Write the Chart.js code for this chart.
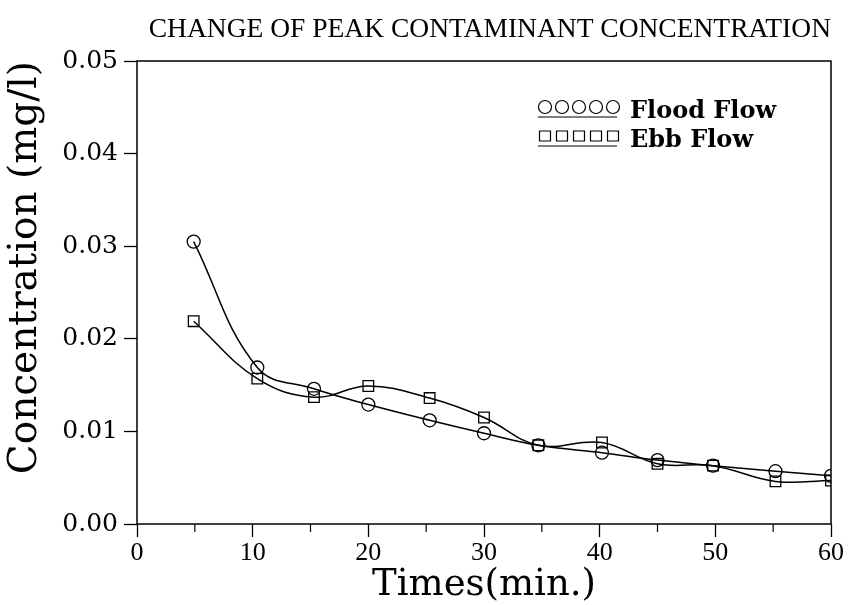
<!DOCTYPE html>
<html>
<head>
<meta charset="utf-8">
<script src="https://cdn.jsdelivr.net/npm/chart.js@4.4.1/dist/chart.umd.min.js"></script>
<style>
  html, body { margin: 0; padding: 0; background: #fff; }
  #wrap { width: 848px; height: 605px; position: relative; }
</style>
</head>
<body>
<div id="wrap"><canvas id="peakChart" width="848" height="605"></canvas></div>
<script>
// --- données ---
const times = [4.9, 10.4, 15.3, 20.0, 25.3, 30.0, 34.7, 40.2, 45.0, 49.8, 55.2, 60.0];
const floodFlow = [0.0305, 0.0169, 0.0146, 0.0129, 0.0112, 0.0098, 0.0085, 0.0077, 0.0069, 0.0063, 0.0057, 0.0052];
const ebbFlow = [0.0219, 0.0157, 0.0137, 0.0149, 0.0136, 0.0115, 0.0085, 0.0088, 0.0065, 0.0063, 0.0046, 0.0047];
const seriesNames = ['Flood Flow', 'Ebb Flow'];
const xTicks = [0, 10, 20, 30, 40, 50, 60];
const xMinorTicks = [5, 15, 25, 35, 45, 55];
const yTicks = [0.00, 0.01, 0.02, 0.03, 0.04, 0.05];

const SERIF = '"DejaVu Serif", "Liberation Serif", serif';

function toPoints(vals) {
    return vals.map((v, i) => ({ x: times[i], y: v }));
}

// cadre + petites graduations + légende dessinée à la main (5 symboles par ligne)
const framePlugin = {
    id: 'frame',
    afterDraw(chart) {
        const ctx = chart.ctx;
        const a = chart.chartArea;
        const xs = chart.scales.x;
        ctx.save();
        ctx.strokeStyle = '#000';
        ctx.lineWidth = 1.5;
        ctx.strokeRect(a.left, a.top, a.right - a.left, a.bottom - a.top);

        // graduations secondaires
        ctx.lineWidth = 1.2;
        xMinorTicks.forEach(t => {
            const px = xs.getPixelForValue(t);
            ctx.beginPath();
            ctx.moveTo(px, a.bottom);
            ctx.lineTo(px, a.bottom + 8);
            ctx.stroke();
        });

        // légende
        const rows = [
            { name: seriesNames[0], style: 'circle', y: 107 },
            { name: seriesNames[1], style: 'rect', y: 136 }
        ];
        rows.forEach(r => {
            ctx.lineWidth = 1.2;
            for (let k = 0; k < 5; k++) {
                const cx = 545 + k * 17;
                ctx.beginPath();
                if (r.style === 'circle') ctx.arc(cx, r.y, 6.5, 0, Math.PI * 2);
                else ctx.rect(cx - 5.5, r.y - 5, 11, 10);
                ctx.stroke();
            }
            ctx.beginPath();
            ctx.moveTo(538, r.y + 10);
            ctx.lineTo(617, r.y + 10);
            ctx.stroke();
            ctx.fillStyle = '#000';
            ctx.font = 'bold 24px ' + SERIF;
            ctx.textBaseline = 'alphabetic';
            ctx.textAlign = 'left';
            ctx.fillText(r.name, 630, r.y + 11);
        });
        ctx.restore();
    }
};

const ctx = document.getElementById('peakChart').getContext('2d');
const chart = new Chart(ctx, {
    type: 'line',
    data: {
        datasets: [{
            label: seriesNames[0],
            data: toPoints(floodFlow),
            borderColor: '#000',
            borderWidth: 1.5,
            backgroundColor: 'rgba(0,0,0,0)',
            pointStyle: 'circle',
            pointRadius: 6.5,
            pointBorderWidth: 1.3,
            pointBorderColor: '#000',
            pointBackgroundColor: 'rgba(0,0,0,0)',
            tension: 0.4,
            fill: false
        }, {
            label: seriesNames[1],
            data: toPoints(ebbFlow),
            borderColor: '#000',
            borderWidth: 1.5,
            backgroundColor: 'rgba(0,0,0,0)',
            pointStyle: 'rect',
            pointRadius: 7.5,
            pointBorderWidth: 1.3,
            pointBorderColor: '#000',
            pointBackgroundColor: 'rgba(0,0,0,0)',
            tension: 0.4,
            fill: false
        }]
    },
    options: {
        responsive: false,
        animation: false,
        layout: { padding: { left: 0, right: 17, top: 0, bottom: 1 } },
        plugins: {
            legend: { display: false },
            tooltip: { enabled: false },
            title: {
                display: true,
                text: 'CHANGE OF PEAK CONTAMINANT CONCENTRATION',
                align: 'end',
                color: '#000',
                font: { family: '"Liberation Serif", serif', size: 27.5, weight: 'normal' },
                padding: { top: 13, bottom: 15 }
            }
        },
        scales: {
            x: {
                type: 'linear',
                min: 0, max: 60,
                afterBuildTicks: s => { s.ticks = xTicks.map(v => ({ value: v })); },
                ticks: { color: '#000', font: { family: '"Liberation Serif", serif', size: 26 }, padding: 1, maxRotation: 0 },
                grid: { drawOnChartArea: false, drawTicks: true, tickLength: 13, tickColor: '#000', tickWidth: 1.3 },
                border: { display: false },
                title: { display: true, text: 'Times(min.)', color: '#000', font: { family: SERIF, size: 37, lineHeight: 1.0 }, padding: { top: 0, bottom: 0 } },
                afterFit: s => { s.height = 80; }
            },
            y: {
                type: 'linear',
                min: 0, max: 0.05,
                afterBuildTicks: s => { s.ticks = yTicks.map(v => ({ value: v })); },
                ticks: { color: '#000', font: { family: SERIF, size: 25 }, padding: 6, callback: v => v.toFixed(2) },
                grid: { drawOnChartArea: false, drawTicks: true, tickLength: 13, tickColor: '#000', tickWidth: 1.3 },
                border: { display: false },
                title: { display: true, text: 'Concentration (mg/l)', align: 'end', color: '#000', font: { family: SERIF, size: 39 }, padding: { top: 2, bottom: 0 } },
                afterFit: s => { s.width = 137; }
            }
        }
    },
    plugins: [framePlugin]
});
</script>
</body>
</html>
